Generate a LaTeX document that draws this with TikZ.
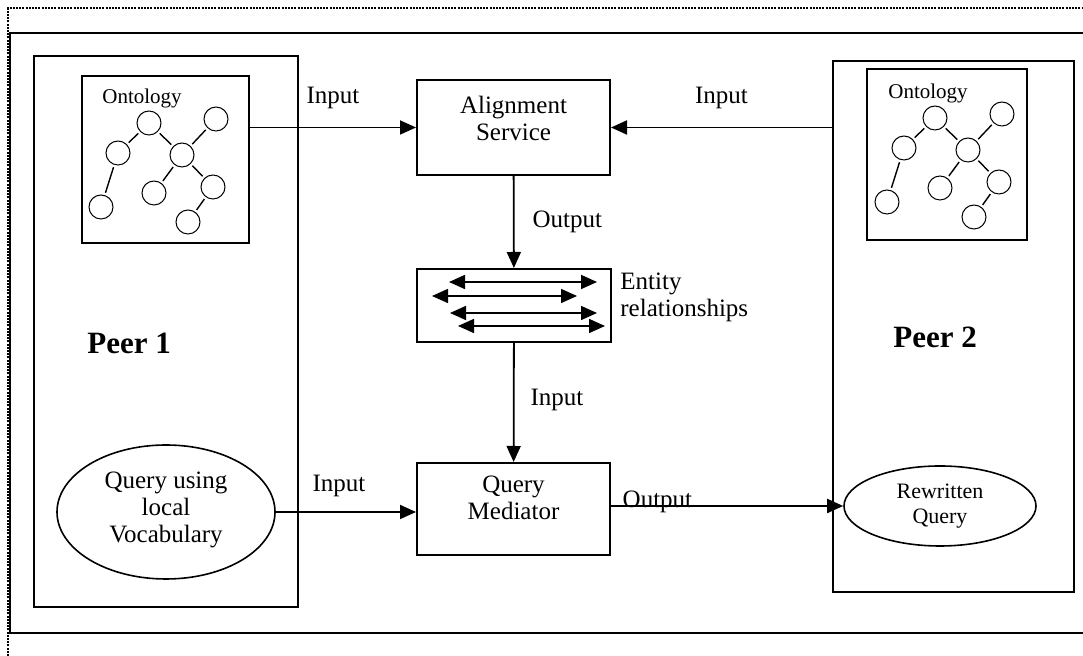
\documentclass[tikz,border=0pt]{standalone}
\usepackage{fontspec}
\setmainfont{Liberation Serif}
\usetikzlibrary{arrows.meta,shapes.geometric,positioning,calc}

\begin{document}
\begin{tikzpicture}[x=0.5pt,y=-0.5pt,>={Triangle[length=8pt,width=7pt]},
        box/.style={draw,line width=1pt,inner sep=0pt},
        oval/.style={draw,ellipse,line width=0.8pt,inner sep=0pt},
        ont/.style={draw,circle,minimum size=12pt,inner sep=0pt,line width=0.5pt},
        edge/.style={line width=0.7pt,shorten <=1.2pt,shorten >=1.2pt},
        arr/.style={->,line width=0.9pt},
        txt/.style={font=\fontsize{12.5}{13.5}\selectfont,align=center,inner sep=0pt},
        small/.style={font=\fontsize{10.5}{12}\selectfont,inner sep=0pt}]
        \useasboundingbox (0,0) rectangle (1083,656);

        % outer frames
        \draw[line width=1pt,dash pattern=on 1pt off 0.6pt] (8,656) -- (8,8) -- (1083,8);
        \draw[line width=1.1pt] (1083,33) -- (10,33) -- (10,633) -- (1083,633);

        % the two peers
        \node[box,minimum width=132pt,minimum height=275.5pt] (peer1) at (166,331.5) {};
        \node[box,minimum width=120.5pt,minimum height=265.5pt] (peer2) at (953.5,326.5) {};
        \node[txt,font=\fontsize{15.5}{17}\selectfont\bfseries,anchor=west] (peer1lbl) at (87,343) {Peer 1};
        \node[txt,font=\fontsize{15.5}{17}\selectfont\bfseries,anchor=west] (peer2lbl) at (893,337) {Peer 2};

        % ontology boxes
        \node[box,minimum width=83.5pt,minimum height=83.5pt] (onto1) at (165.5,159.5) {};
        \node[box,minimum width=80pt,minimum height=85.5pt] (onto2) at (947,154.5) {};

        % the two ontology trees
        \foreach \pre/\dx/\dy in {a/0/0,b/786/-5} {
            \begin{scope}[shift={(\dx,\dy)},name prefix=\pre-]
                \node[small,anchor=west] (title) at (102,98) {Ontology};
                \foreach \n/\cx/\cy in {t/149/123,r/216/119,l/118/153,m/182/155,
                                        bl/101/207,ml/154/193,rl/213/187,b/188/222}
                    \node[ont] (\n) at (\cx,\cy) {};
                \foreach \u/\v in {t/l,t/m,r/m,l/bl,m/ml,m/rl,rl/b}
                    \draw[edge] (\u) -- (\v);
            \end{scope}
        }

        % services in the middle
        \node[box,minimum width=96.5pt,minimum height=47.5pt] (align) at (513.5,127.5) {};
        \node[txt,below=8.5pt of align.north] (aligntxt) {Alignment\\Service};
        \node[box,minimum width=97pt,minimum height=36.5pt] (entity) at (514,305.5) {};
        \node[txt,anchor=west,align=left] (entitytxt) at (620,297) {Entity\\relationships};
        \node[box,minimum width=96.5pt,minimum height=46pt] (query) at (513.5,509) {};
        \node[txt,below=7pt of query.north] (querytxt) {Query\\Mediator};

        % queries
        \node[oval,minimum width=109pt,minimum height=67pt] (local) at (166,512) {};
        \node[txt] (localtxt) at (166,510) {Query using\\local\\Vocabulary};
        \node[oval,minimum width=96pt,minimum height=40pt] (rewr) at (940,506) {};
        \node[txt,font=\fontsize{11}{12.5}\selectfont] (rewrtxt) at (940,506) {Rewritten\\Query};

        % arrows between the entity relationships
        \coordinate (e1) at (0,282);
        \coordinate (e2) at (0,296);
        \coordinate (e3) at (0,313);
        \coordinate (e4) at (0,326);
        \draw[<->,line width=0.8pt] (449,0 |- e1) -- (597,0 |- e1);
        \draw[<->,line width=0.8pt] (432,0 |- e2) -- (577,0 |- e2);
        \draw[<->,line width=0.8pt] (450,0 |- e3) -- (597,0 |- e3);
        \draw[<->,line width=0.8pt] (458,0 |- e4) -- (605,0 |- e4);

        % connectors
        \draw[arr] (onto1.east |- align.west) -- (align.west) node[txt,pos=0.5,above=9pt] (in1) {Input};
        \draw[arr] (peer2.west |- align.east) -- (align.east) node[txt,pos=0.5,above=9pt] (in2) {Input};
        \draw[arr] (align) -- (entity) node[txt,pos=0.5,right=9pt] (out1) {Output};
        \draw[arr] (entity) -- (query) node[txt,pos=0.48,right=8pt] (in3) {Input};
        \draw[arr] (local.east) -- (query.west |- local.east) node[txt,pos=0.45,above=7pt] (in4) {Input};
        \draw[arr] (query.east |- rewr.west) -- (rewr.west) node[txt,pos=0.2,above=-4pt] (out2) {Output};
\end{tikzpicture}
\end{document}
